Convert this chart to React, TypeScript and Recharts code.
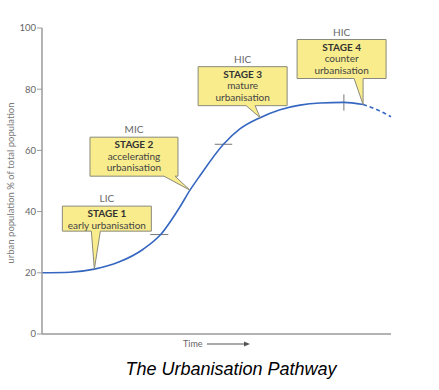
import { LineChart, Line, XAxis, YAxis, ReferenceLine, ReferenceDot } from 'recharts';

// time runs 0..100 (no units on the axis), urban share in %
const time = [0, 8, 15, 22, 29, 34, 39.5, 42.4, 45.3, 52, 56.7, 62.5, 68.2, 73.9, 79.7, 86.5, 92, 96, 100];
const urban = [20, 20.2, 21.2, 23.5, 27.7, 32.5, 41.5, 47, 51.8, 62, 67, 70.7, 73.3, 74.8, 75.5, 75.7, 75, 73.3, 71];
const projectedFrom = 92; // dashed beyond this point

const yTicks = [0, 20, 40, 60, 80, 100];

const stages = [
  { x: 15, y: 21.2, income: 'LIC', title: 'STAGE 1', lines: ['early urbanisation'] },
  { x: 42.4, y: 47, income: 'MIC', title: 'STAGE 2', lines: ['accelerating', 'urbanisation'] },
  { x: 62.5, y: 70.7, income: 'HIC', title: 'STAGE 3', lines: ['mature', 'urbanisation'] },
  { x: 92, y: 75, income: 'HIC', title: 'STAGE 4', lines: ['counter', 'urbanisation'] },
];

// stage boundary marks on the curve
const marks = [
  { x1: 31, x2: 36.2, y1: 32.5, y2: 32.5 },
  { x1: 49.5, x2: 54.5, y1: 62, y2: 62 },
  { x1: 86.5, x2: 86.5, y1: 73, y2: 78.3 },
];

const data = time.map((t, i) => ({
  t,
  solid: t <= projectedFrom ? urban[i] : null,
  projected: t >= projectedFrom ? urban[i] : null,
}));

// box placement relative to the pointer tip (px)
const boxGeom = [
  { left: -32, top: -63, w: 89, h: 25, b1: -3, b2: 6 },
  { left: -100, top: -53, w: 88, h: 39, b1: -26, b2: -15 },
  { left: -62, top: -51, w: 89, h: 39, b1: -14, b2: -5 },
  { left: -66, top: -65, w: 89, h: 39, b1: -9, b2: 0 },
];

const font = 'Lato, "Noto Sans", sans-serif';

function Callout(props: any) {
  const { cx, cy, idx } = props;
  const s = stages[idx];
  const g = boxGeom[idx];
  const L = g.left, T = g.top, R = g.left + g.w, B = g.top + g.h;
  const d = `M${L},${T} H${R} V${B} H${g.b2} L0,0 L${g.b1},${B} H${L} Z`;
  const mid = L + g.w / 2;
  return (
    <g transform={`translate(${cx},${cy})`} fontFamily={font}>
      <path d={d} fill="#f8ec8c" stroke="#8a8a7c" strokeWidth={1} />
      <text x={mid} y={T - 4} textAnchor="middle" fontSize={10} fill="#666">{s.income}</text>
      <text x={mid} y={T + 11} textAnchor="middle" fontSize={10} fontWeight="bold" fill="#333">{s.title}</text>
      {s.lines.map((ln, i) => (
        <text key={i} x={mid} y={T + 22.5 + i * 11.5} textAnchor="middle" fontSize={10} fill="#444">{ln}</text>
      ))}
    </g>
  );
}

export default function App() {
  return (
    <div style={{ position: 'absolute', left: 0, top: 0, width: 439, height: 390, background: '#fff' }}>
      <LineChart width={439} height={390} data={data} margin={{ top: 28, right: 48, bottom: 46, left: 12 }}>
        <XAxis dataKey="t" type="number" domain={[0, 100]} tick={false} tickLine={false} height={10}
          axisLine={{ stroke: '#9a9a9a', strokeWidth: 1.5 }} />
        <YAxis type="number" domain={[0, 100]} ticks={yTicks} width={30} tickSize={5} tickMargin={1}
          axisLine={{ stroke: '#9a9a9a', strokeWidth: 1.5 }} tickLine={{ stroke: '#9a9a9a' }}
          tick={{ fontSize: 9.5, fill: '#666', fontFamily: font }} />
        {marks.map((m, i) => (
          <ReferenceLine key={i} segment={[{ x: m.x1, y: m.y1 }, { x: m.x2, y: m.y2 }]} stroke="#777" strokeWidth={1} />
        ))}
        <Line type="monotone" dataKey="solid" stroke="#3566c0" strokeWidth={1.6} dot={false} isAnimationActive={false} connectNulls={false} />
        <Line type="monotone" dataKey="projected" stroke="#3566c0" strokeWidth={1.6} strokeDasharray="4 3" dot={false} isAnimationActive={false} />
        {stages.map((s, i) => (
          <ReferenceDot key={i} x={s.x} y={s.y} r={0} shape={(p: any) => <Callout {...p} idx={i} />} />
        ))}
      </LineChart>
      <svg width={439} height={390} style={{ position: 'absolute', left: 0, top: 0, pointerEvents: 'none' }}>
        <text transform="translate(14,183) rotate(-90)" textAnchor="middle" fontSize={9.5} fill="#777" fontFamily={font}>
          urban population % of total population
        </text>
        <text x={183} y={347} fontSize={9} fill="#666" fontFamily={font}>Time</text>
        <line x1={207} y1={344} x2={246} y2={344} stroke="#555" strokeWidth={1} />
        <path d="M250,344 L244,341.5 L244,346.5 Z" fill="#555" />
        <text x={231} y={375} textAnchor="middle" fontSize={18} fontStyle="italic" fill="#000"
          fontFamily='"Liberation Sans", Arial, sans-serif'>The Urbanisation Pathway</text>
      </svg>
    </div>
  );
}
